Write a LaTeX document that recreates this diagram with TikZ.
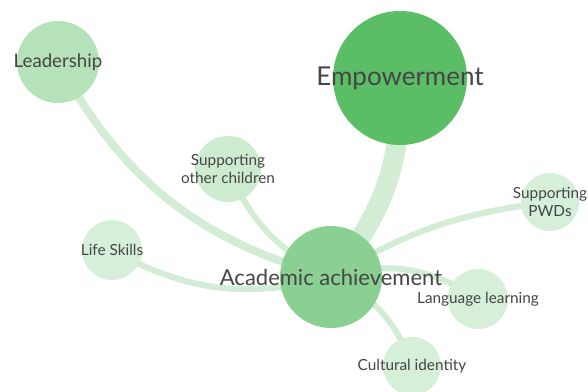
\documentclass[tikz,border=0pt]{standalone}
\usepackage{fontspec}
\setmainfont{Lato}
\usetikzlibrary{backgrounds}
\definecolor{empgreen}{HTML}{5CBD67}
\definecolor{acadgreen}{HTML}{8BD093}
\definecolor{leadgreen}{HTML}{B6E2BA}
\definecolor{palegreen}{HTML}{D6EFD8}
\definecolor{softgreen}{HTML}{CDEBCF}
\definecolor{linkgreen}{HTML}{D2EDD4}
\definecolor{labelgray}{HTML}{454545}

\begin{document}
\begin{tikzpicture}[
    x=0.75pt, y=-0.75pt,
    bubble/.style={circle, inner sep=0pt, minimum size=#1*1.5pt},
    labeltext/.style={text=labelgray, inner sep=0pt, align=center},
    hugetext/.style={labeltext, font=\fontsize{19.5}{22}\selectfont},
    bigtext/.style={labeltext, font=\fontsize{16.5}{19}\selectfont},
    midtext/.style={labeltext, font=\fontsize{14}{16}\selectfont},
    smalltext/.style={labeltext, font=\fontsize{11.5}{13}\selectfont},
    link/.style={draw=linkgreen, line width=#1*0.75pt},
]
\useasboundingbox (0,0) rectangle (588,392);

% === CENTRAL THEMES ===
\node[bubble=67, fill=empgreen, label={[hugetext]center:Empowerment}] (emp) at (400,78) {};
\node[bubble=51, fill=acadgreen, label={[bigtext]center:Academic achievement}] (acad) at (331,277) {};

% === RELATED THEMES ===
\node[bubble=41, fill=leadgreen, label={[midtext]center:Leadership}] (lead) at (58,62) {};
\node[bubble=33, fill=softgreen, label={[smalltext]center:Supporting\\other children}] (others) at (228,169) {};
\node[bubble=29, fill=palegreen, label={[smalltext]center:Supporting\\PWDs}] (pwds) at (550,202) {};
\node[bubble=30, fill=palegreen, label={[smalltext]center:Life Skills}] (skills) at (112,250) {};
\node[bubble=30, fill=palegreen, label={[smalltext]center:Language learning}] (lang) at (478,299) {};
\node[bubble=29, fill=palegreen, label={[smalltext]center:Cultural identity}] (culture) at (412,366) {};

% === LINKS ===
\begin{scope}[on background layer]
    \draw[link=20] (emp.center) to[bend left=21] (acad.center);
    \draw[link=8] (lead.center) to[bend right=23] (acad.center);
    \draw[link=6] (others.center) to[bend right=20] (acad.center);
    \draw[link=6] (skills.center) to[bend right=22] (acad.center);
    \draw[link=6] (pwds.center) to[bend right=12] (acad.center);
    \draw[link=6] (acad.center) to[bend left=25] (lang.center);
    \draw[link=6] (acad.center) to[bend left=23] (culture.center);
\end{scope}

\end{tikzpicture}
\end{document}
